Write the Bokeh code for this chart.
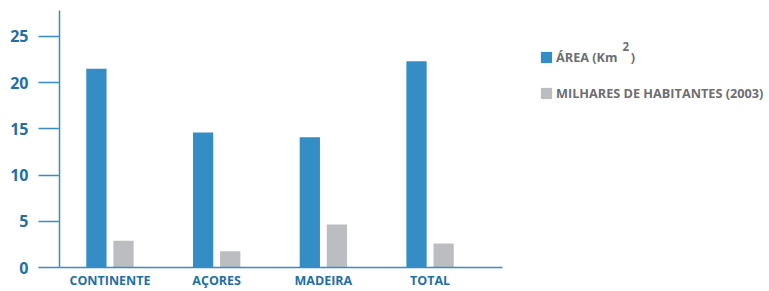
from bokeh.plotting import figure
from bokeh.models import Range1d, FixedTicker, Legend, LegendItem, Label, ColumnDataSource
from bokeh.transform import dodge
from bokeh.embed import file_html
from bokeh.resources import INLINE

categories = ["CONTINENTE", "AÇORES", "MADEIRA", "TOTAL"]
area = [21.5, 14.6, 14.1, 22.3]
habitantes = [2.9, 1.75, 4.65, 2.6]
y_ticks = [0, 5, 10, 15, 20, 25]
series_names = ["ÁREA (Km    )", "MILHARES DE HABITANTES (2003)"]

BLUE = "#348dc5"
GRAY = "#bcbdc0"
AXIS = "#3a8cc4"
TICKLBL = "#1f6fa7"
LEGTXT = "#6d6e71"
FONT = "Open Sans"

idx = list(range(len(categories)))
src = ColumnDataSource(dict(x=idx, area=area, hab=habitantes))

p = figure(width=769, height=291, output_backend="svg", toolbar_location=None,
           x_range=Range1d(-0.473, 6.181), y_range=Range1d(0, 27.8),
           min_border_left=59, min_border_top=10, min_border_bottom=0,
           min_border_right=0, outline_line_color=None)

r1 = p.vbar(x=dodge("x", -0.127, range=p.x_range), top="area", width=0.19, source=src,
            fill_color=BLUE, line_color=None)
r2 = p.vbar(x=dodge("x", 0.127, range=p.x_range), top="hab", width=0.19, source=src,
            fill_color=GRAY, line_color=None)

p.grid.visible = False

p.xaxis.bounds = (-0.473, 3.678)
p.xaxis.ticker = FixedTicker(ticks=idx)
p.xaxis.major_label_overrides = {i: c for i, c in zip(idx, categories)}
p.xaxis.major_tick_line_color = None
p.xaxis.major_tick_out = 0
p.xaxis.major_tick_in = 0
p.xaxis.minor_tick_line_color = None
p.xaxis.axis_line_color = AXIS
p.xaxis.axis_line_width = 1.5
p.xaxis.major_label_text_font = FONT
p.xaxis.major_label_text_font_style = "bold"
p.xaxis.major_label_text_font_size = "12.5px"
p.xaxis.major_label_text_color = TICKLBL
p.xaxis.major_label_standoff = 4

p.yaxis.ticker = FixedTicker(ticks=y_ticks)
p.yaxis.minor_tick_line_color = None
p.yaxis.major_tick_out = 21
p.yaxis.major_tick_in = 0
p.yaxis.major_tick_line_color = AXIS
p.yaxis.major_tick_line_width = 1.5
p.yaxis.axis_line_color = AXIS
p.yaxis.axis_line_width = 1.5
p.yaxis.major_label_text_font = FONT
p.yaxis.major_label_text_font_style = "bold"
p.yaxis.major_label_text_font_size = "16px"
p.yaxis.major_label_text_color = TICKLBL
p.yaxis.major_label_standoff = 10

legend = Legend(items=[LegendItem(label=series_names[0], renderers=[r1]),
                       LegendItem(label=series_names[1], renderers=[r2])],
                location=(480, 165), orientation="vertical",
                glyph_width=14, glyph_height=14, spacing=18,
                label_text_font=FONT, label_text_font_style="bold",
                label_text_font_size="12.7px", label_text_color=LEGTXT,
                border_line_color=None, background_fill_alpha=0,
                margin=0, padding=0, label_standoff=3)
p.add_layout(legend, "center")

sup = Label(x=563, y=221, x_units="screen", y_units="screen", text="2",
            text_font=FONT, text_font_style="bold", text_font_size="11.5px",
            text_color=LEGTXT, text_baseline="alphabetic")
p.add_layout(sup)

open("out.html", "w").write(file_html(p, INLINE))
